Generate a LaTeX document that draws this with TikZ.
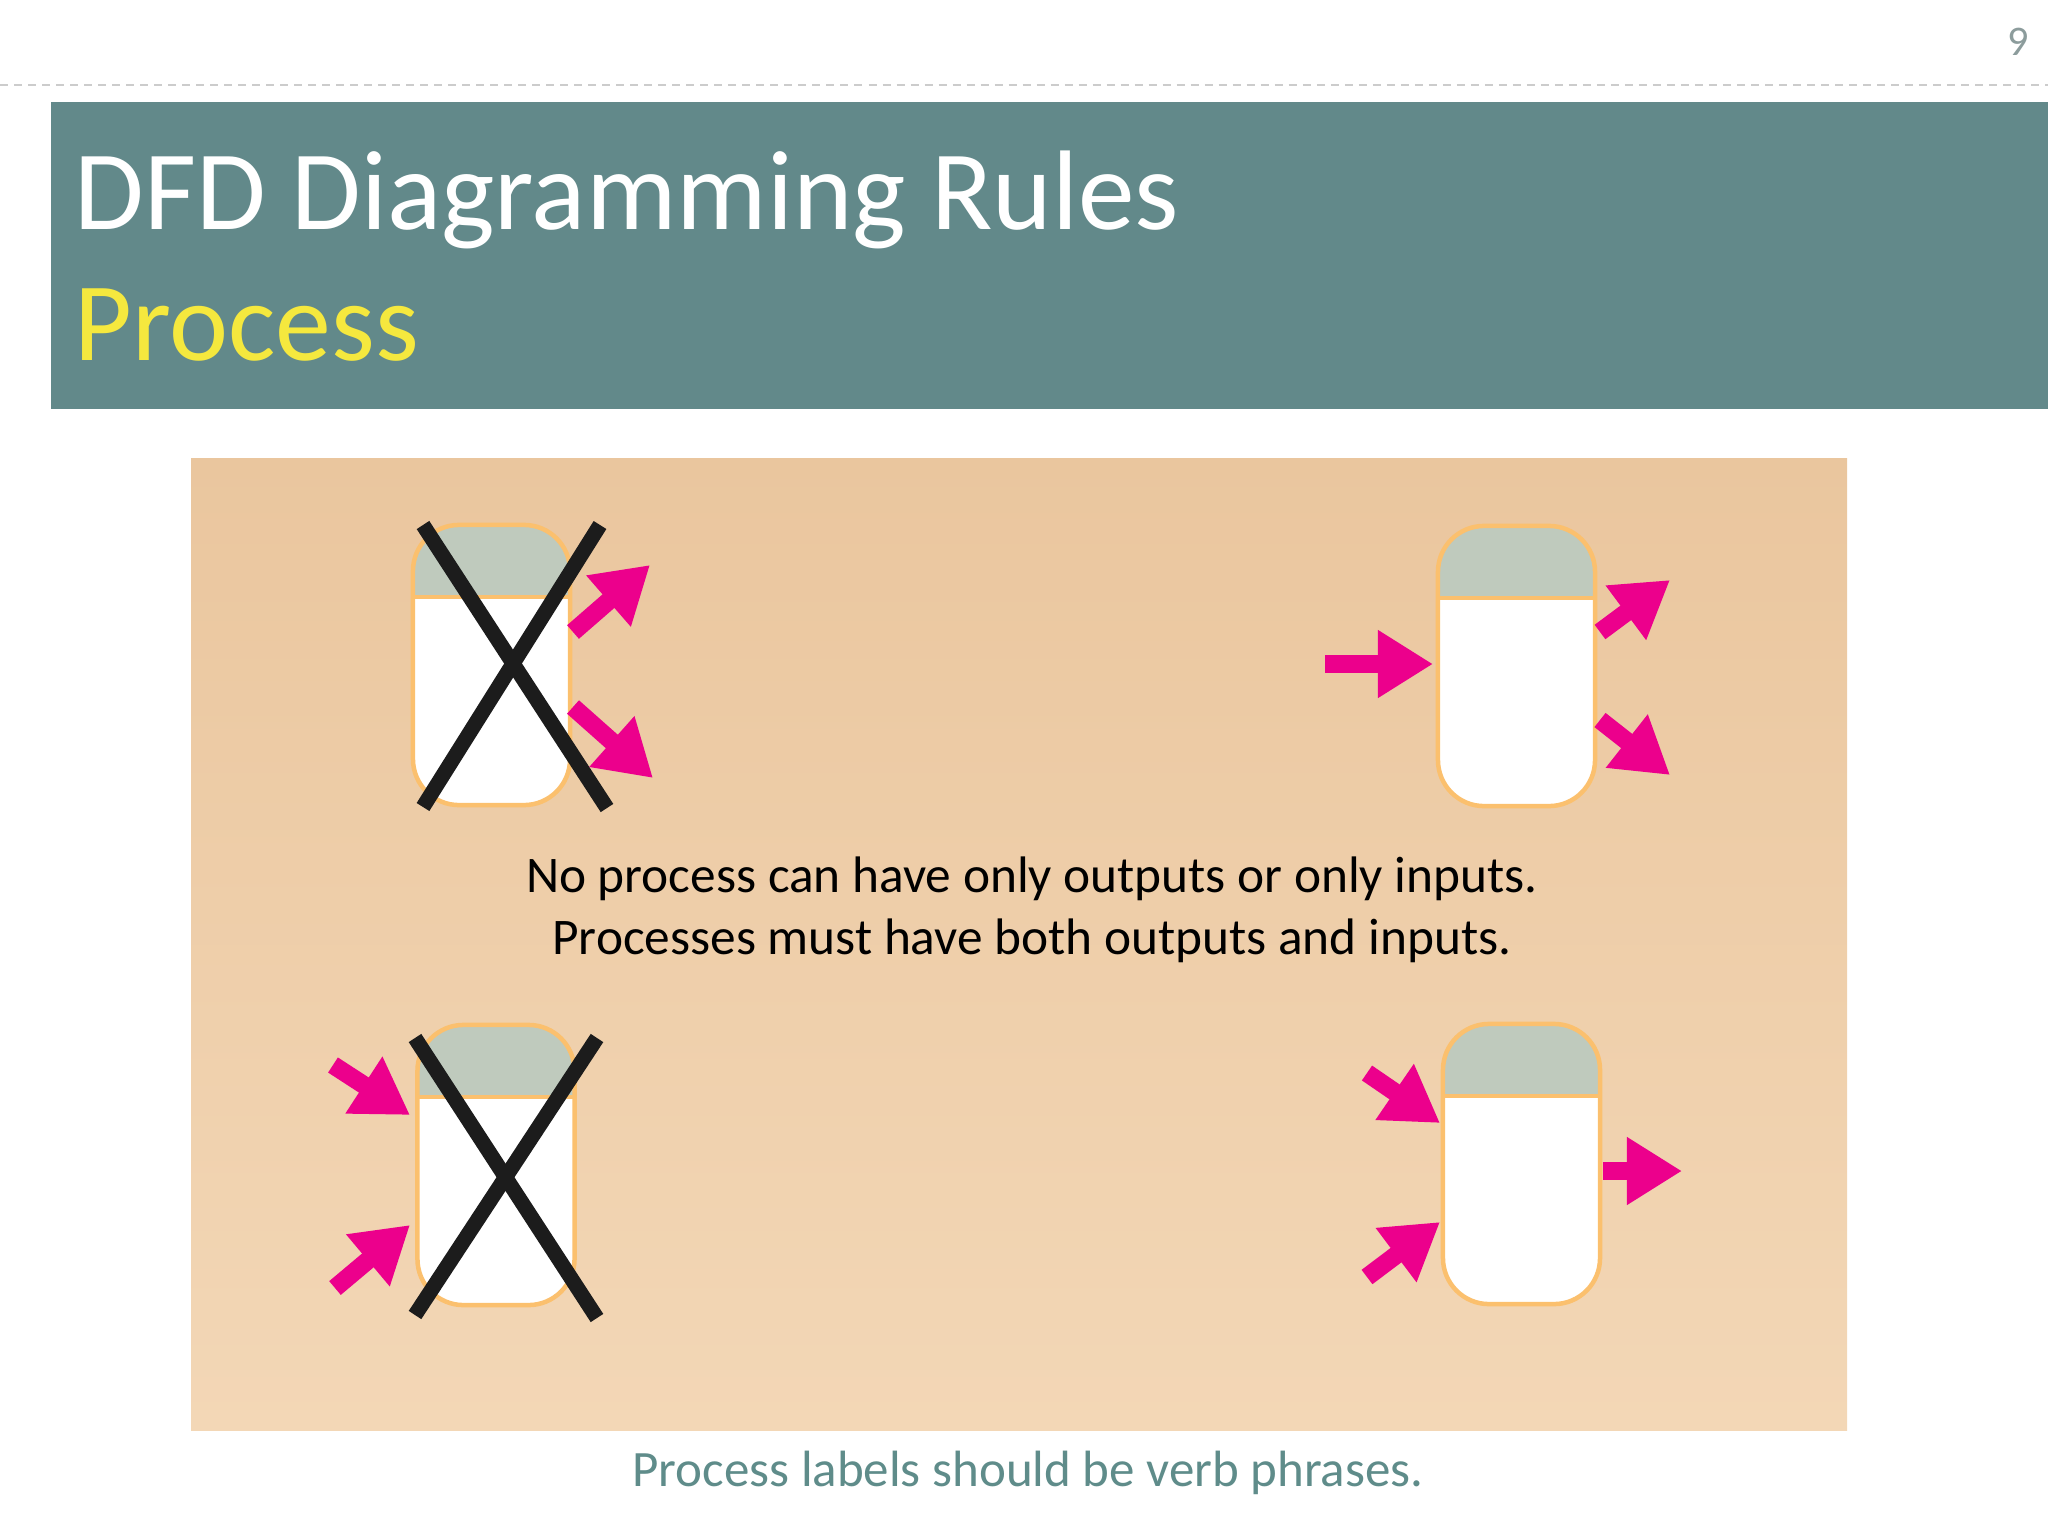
\documentclass[tikz,border=0pt]{standalone}
\usepackage{fontspec}
\setmainfont{Carlito}
\usepackage{tikz}
\usetikzlibrary{arrows.meta}

\definecolor{banner}{RGB}{98,137,138}
\definecolor{subyellow}{RGB}{245,232,62}
\definecolor{flowpink}{RGB}{236,0,140}
\definecolor{rimorange}{RGB}{251,192,110}
\definecolor{bandgray}{RGB}{191,202,189}
\definecolor{crossblack}{RGB}{28,28,28}
\definecolor{notegray}{RGB}{95,140,138}
\definecolor{pagegray}{RGB}{140,156,156}
\definecolor{paneltop}{RGB}{234,198,158}
\definecolor{panelbot}{RGB}{243,215,182}

\begin{document}
\begin{tikzpicture}[x=0.01cm,y=-0.01cm,
  process node/.style={rectangle,rounded corners=0.46cm,draw=rimorange,line width=0.045cm,fill=white,
    minimum width=1.57cm,minimum height=2.8cm,inner sep=0pt,outer sep=0pt,
    path picture={
      \fill[bandgray,sharp corners] (path picture bounding box.north west) rectangle ([yshift=-0.72cm]path picture bounding box.north east);
      \draw[rimorange,line width=0.045cm,sharp corners] ([yshift=-0.72cm]path picture bounding box.north west) -- ([yshift=-0.72cm]path picture bounding box.north east);}},
  flow/.style={flowpink,line width=0.18cm,-{Triangle[length=0.55cm,width=0.64cm]}},
  cross/.style={crossblack,line width=0.15cm}]
  \useasboundingbox (0,0) rectangle (2048,1536);

  % header
  \draw[gray!40,line width=0.02cm,dash pattern=on 0.08cm off 0.06cm] (0,85) -- (2048,85);
  \node[anchor=base,text=pagegray,font=\fontsize{12}{14}\selectfont] (pagenum) at (2018,55) {9};
  \fill[banner] (51,102) rectangle (2048,409);
  \node[anchor=base west,inner sep=0pt,text=white,font=\fontsize{32.2}{38}\selectfont] (title) at (74,229) {DFD Diagramming Rules};
  \node[anchor=base west,inner sep=0pt,text=subyellow,font=\fontsize{31.8}{37}\selectfont] (subtitle) at (74,360) {Process};

  % panel
  \shade[top color=paneltop,bottom color=panelbot] (191,458) rectangle (1847,1430);

  \node[process node] (p1) at (491.5,665) {};
  \node[process node] (p2) at (1516.5,666) {};
  \node[process node] (p3) at (496,1165) {};
  \node[process node] (p4) at (1521.5,1164) {};

  % wrong: only outputs
  \draw[cross] (423,525) -- (607,808);
  \draw[cross] (600,525) -- (423,807);
  \coordinate (o1a) at (573,632); \coordinate (o1b) at (650,565);
  \coordinate (o2a) at (573,707); \coordinate (o2b) at (653,778);
  \draw[flow] (o1a) -- (o1b);
  \draw[flow] (o2a) -- (o2b);

  % right: inputs and outputs
  \coordinate (i3a) at (1325,664); \coordinate (i3b) at (1433,664);
  \coordinate (o3a) at (1600,632); \coordinate (o3b) at (1670,580);
  \coordinate (o4a) at (1600,720); \coordinate (o4b) at (1670,775);
  \draw[flow] (i3a) -- (i3b);
  \draw[flow] (o3a) -- (o3b);
  \draw[flow] (o4a) -- (o4b);

  % wrong: only inputs
  \draw[cross] (415,1038) -- (597,1318);
  \draw[cross] (597,1038) -- (415,1315);
  \coordinate (i5a) at (333,1065); \coordinate (i5b) at (410,1115);
  \coordinate (i6a) at (335,1288); \coordinate (i6b) at (410,1225);
  \draw[flow] (i5a) -- (i5b);
  \draw[flow] (i6a) -- (i6b);

  % right: inputs and output
  \coordinate (i7a) at (1367,1073); \coordinate (i7b) at (1440,1123);
  \coordinate (i8a) at (1367,1277); \coordinate (i8b) at (1440,1222);
  \coordinate (o9a) at (1603,1171); \coordinate (o9b) at (1682,1171);
  \draw[flow] (i7a) -- (i7b);
  \draw[flow] (i8a) -- (i8b);
  \draw[flow] (o9a) -- (o9b);

  % texts
  \node[anchor=base,inner sep=0pt,font=\fontsize{14.6}{17}\selectfont] (rule1) at (1032,892) {No process can have only outputs or only inputs.};
  \node[anchor=base,inner sep=0pt,font=\fontsize{14.6}{17}\selectfont] (rule2) at (1032,954) {Processes must have both outputs and inputs.};
  \node[anchor=base,inner sep=0pt,text=notegray,font=\fontsize{14.5}{17}\selectfont] (note) at (1028,1486) {Process labels should be verb phrases.};
\end{tikzpicture}
\end{document}
